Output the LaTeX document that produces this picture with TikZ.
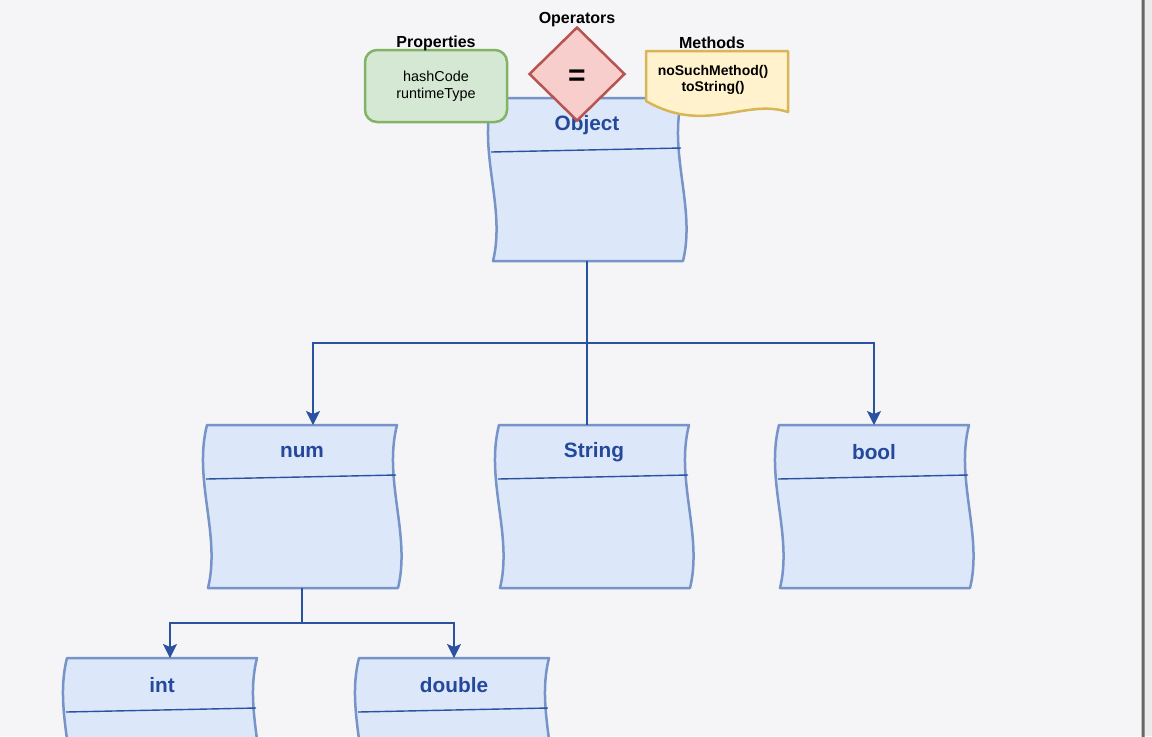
\documentclass[tikz,border=0pt]{standalone}
\usepackage{fontspec}
\setmainfont{Liberation Sans}
\usetikzlibrary{arrows.meta,shapes.geometric}
\definecolor{bgcol}{HTML}{F5F5F7}
\definecolor{clsfill}{HTML}{DCE7FA}
\definecolor{clsline}{HTML}{7694C8}
\definecolor{linkcol}{HTML}{2A52A0}
\definecolor{clstext}{HTML}{24499A}
\definecolor{propfill}{HTML}{D5E8D4}
\definecolor{propline}{HTML}{82B366}
\definecolor{opfill}{HTML}{F8CECC}
\definecolor{opline}{HTML}{B85450}
\definecolor{methfill}{HTML}{FFF2CC}
\definecolor{methline}{HTML}{D6B656}
\newcommand\classbox[4]{%
  \begin{scope}[shift={(#2,#3)}]
    \draw[clsshape] (2,0) -- (192,0) .. controls (178,55) and (206,110) .. (193,163)
      -- (3,163) .. controls (16,110) and (-12,55) .. cycle;
    \draw[clsdiv] (1,54) -- (191,50);
    \node[clsname] (#1) at (97,27) {#4};
    \coordinate (#1-t) at (97,0);
    \coordinate (#1-b) at (97,163);
  \end{scope}}
\begin{document}
\begin{tikzpicture}[x=0.5pt,y=-0.5pt,
    >={Stealth[length=7pt,width=7pt,inset=1.5pt]},
    clsshape/.style={draw=clsline,fill=clsfill,line width=1.25pt,line join=round},
    clsdiv/.style={draw=linkcol,line width=0.7pt},
    clsname/.style={text=clstext,font=\bfseries\fontsize{10.4}{12}\selectfont},
    conn/.style={draw=linkcol,line width=1pt},
    title/.style={font=\bfseries\fontsize{8}{9.6}\selectfont},
    propbox/.style={draw=propline,fill=propfill,line width=1.25pt,rounded corners=6pt,
      minimum width=71pt,minimum height=36pt,align=center,
      font=\fontsize{7.2}{8.6}\selectfont},
    opbox/.style={diamond,draw=opline,fill=opfill,line width=1.25pt,inner sep=0pt,
      minimum width=48pt,minimum height=47pt}]
\useasboundingbox (0,0) rectangle (1152,736);
\fill[bgcol] (0,0) rectangle (1152,736);
\fill[black!8] (1143,0) rectangle (1152,736);
\draw[black!60,line width=1.5pt] (1100,-3) -- (1128,-3) arc[start angle=90,end angle=0,radius=15] -- (1143,740);
\clip (0,0) rectangle (1152,736);
\classbox{obj}{490}{98}{Object}
\classbox{num}{205}{425}{num}
\classbox{str}{497}{425}{String}
\classbox{bool}{777}{425}{bool}
\classbox{int}{65}{658}{int}
\classbox{dbl}{357}{658}{double}
\coordinate (split) at (587,343);
\coordinate (split2) at (302,623);
\draw[conn] (obj-b) -- (split);
\draw[conn,->] (split) -| ([xshift=5.5pt]num-t);
\draw[conn,->] (split) -| (bool-t);
\draw[conn] (split) -- (split |- str-t);
\draw[conn] (num-b) -- (split2);
\draw[conn,->] (split2) -| ([xshift=4pt]int-t);
\draw[conn,->] (split2) -| (dbl-t);
\node[propbox] (props) at (436,86) {hashCode\\runtimeType};
\node[title] (proptitle) at (436,43) {Properties};
\node[opbox] (ops) at (577,74) {};
\node[font=\bfseries\fontsize{15}{15}\selectfont] (opsign) at (577,78) {=};
\node[title] (optitle) at (577,20) {Operators};
\draw[draw=methline,fill=methfill,line width=1.25pt,line join=round]
  (646,51) -- (788,51) -- (788,112) .. controls (745,98) and (705,135) .. (646,101) -- cycle;
\node[align=center,font=\bfseries\fontsize{7}{7.8}\selectfont] (meths) at (713,80) {noSuchMethod()\\toString()};
\node[title] (methtitle) at (712,43) {Methods};
\end{tikzpicture}
\end{document}
